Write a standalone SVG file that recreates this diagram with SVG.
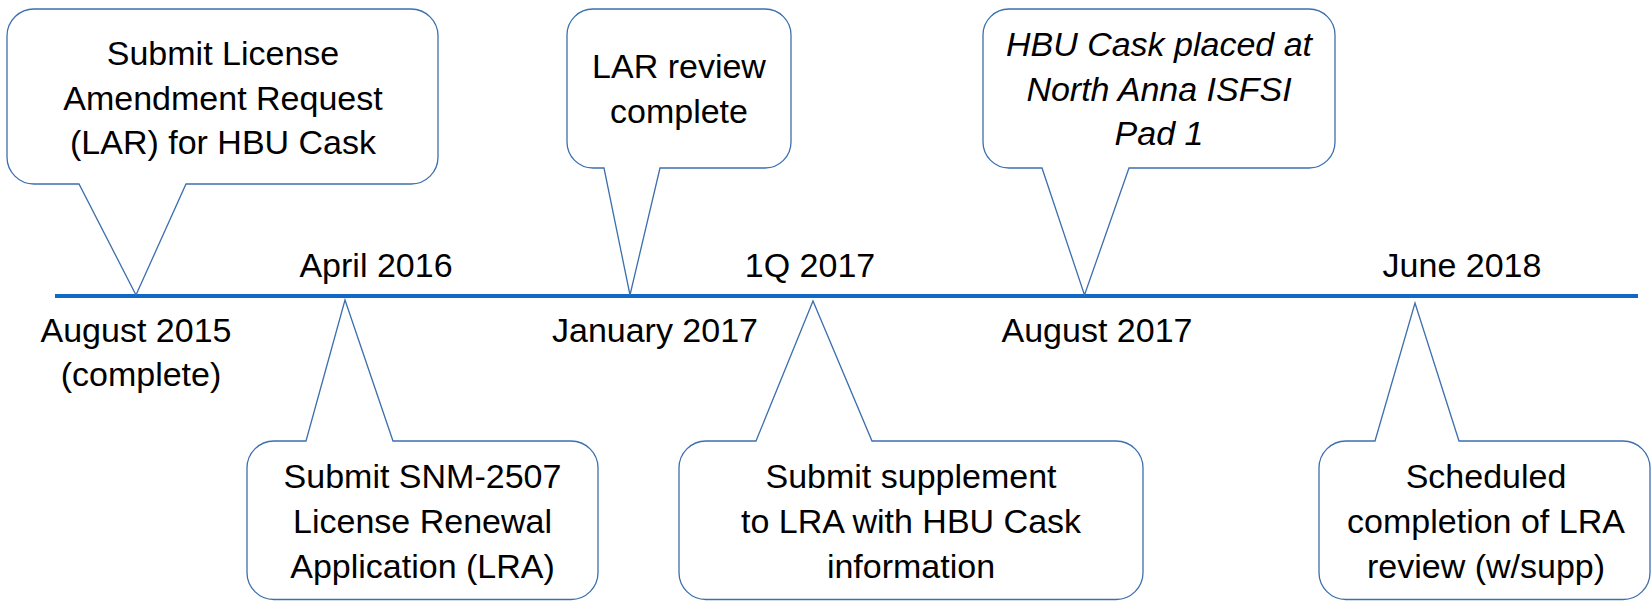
<svg xmlns="http://www.w3.org/2000/svg" width="1652" height="601" viewBox="0 0 1652 601">
<style>
.callout{fill:#ffffff;stroke:#3B6FAE;stroke-width:1.3;stroke-linejoin:miter}
.t{font-family:"Liberation Sans",Arial,sans-serif;font-size:34px;fill:#000000;text-anchor:middle}
.i{font-style:italic}
.axis{stroke:#0E6AC6;stroke-width:4;fill:none}
</style>
<rect width="1652" height="601" fill="#ffffff"/>
<g id="connectors">
<line class="axis" x1="55" y1="296" x2="1638" y2="296"/>
</g>
<g id="callout-lar">
<path class="callout" d="M35,9 H411 A27,27 0 0 1 438,36 V157 A27,27 0 0 1 411,184 H186 L136,295 L79,184 H34 A27,27 0 0 1 7,157 V36 A27,27 0 0 1 35,9 Z"/>
<text class="t" x="223" y="65">Submit License</text>
<text class="t" x="223" y="110">Amendment Request</text>
<text class="t" x="223" y="154">(LAR) for HBU Cask</text>
</g>
<g id="callout-lar-review">
<path class="callout" d="M593,9 H765 A26,26 0 0 1 791,35 V142 A26,26 0 0 1 765,168 H660 L630,295 L604,168 H593 A26,26 0 0 1 567,142 V35 A26,26 0 0 1 593,9 Z"/>
<text class="t" x="679" y="78">LAR review</text>
<text class="t" x="679" y="123">complete</text>
</g>
<g id="callout-hbu-placed">
<path class="callout" d="M1009,9 H1309 A26,26 0 0 1 1335,35 V142 A26,26 0 0 1 1309,168 H1129 L1084.5,295 L1042,168 H1009 A26,26 0 0 1 983,142 V35 A26,26 0 0 1 1009,9 Z"/>
<text class="t i" x="1159" y="56">HBU Cask placed at</text>
<text class="t i" x="1159" y="101">North Anna ISFSI</text>
<text class="t i" x="1159" y="145">Pad 1</text>
</g>
<g id="callout-lra">
<path class="callout" d="M274,441 H306 L345,300 L393,441 H571 A27,27 0 0 1 598,468 V572.5 A27,27 0 0 1 571,599.5 H274 A27,27 0 0 1 247,572.5 V468 A27,27 0 0 1 274,441 Z"/>
<text class="t" x="422.5" y="488">Submit SNM-2507</text>
<text class="t" x="422.5" y="533">License Renewal</text>
<text class="t" x="422.5" y="578">Application (LRA)</text>
</g>
<g id="callout-supplement">
<path class="callout" d="M706,441 H756 L813,301 L872,441 H1116 A27,27 0 0 1 1143,468 V572.5 A27,27 0 0 1 1116,599.5 H706 A27,27 0 0 1 679,572.5 V468 A27,27 0 0 1 706,441 Z"/>
<text class="t" x="911" y="488">Submit supplement</text>
<text class="t" x="911" y="533">to LRA with HBU Cask</text>
<text class="t" x="911" y="578">information</text>
</g>
<g id="callout-completion">
<path class="callout" d="M1346,441 H1375 L1415,303 L1459,441 H1623 A27,27 0 0 1 1650,468 V572.5 A27,27 0 0 1 1623,599.5 H1346 A27,27 0 0 1 1319,572.5 V468 A27,27 0 0 1 1346,441 Z"/>
<text class="t" x="1486" y="488">Scheduled</text>
<text class="t" x="1486" y="533">completion of LRA</text>
<text class="t" x="1486" y="578">review (w/supp)</text>
</g>
<g id="date-aug2015">
<text class="t" x="136" y="342">August 2015</text>
<text class="t" x="141" y="386">(complete)</text>
</g>
<g id="date-apr2016"><text class="t" x="376" y="277">April 2016</text></g>
<g id="date-jan2017"><text class="t" x="655" y="342">January 2017</text></g>
<g id="date-1q2017"><text class="t" x="810" y="277">1Q 2017</text></g>
<g id="date-aug2017"><text class="t" x="1097" y="342">August 2017</text></g>
<g id="date-jun2018"><text class="t" x="1462" y="277">June 2018</text></g>
</svg>
